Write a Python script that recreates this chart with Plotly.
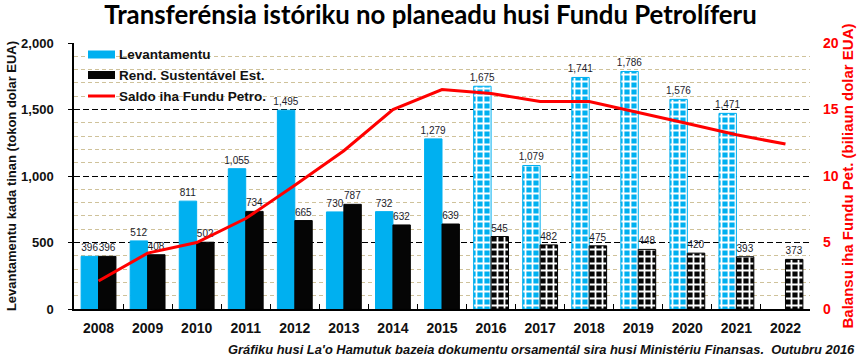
import plotly.graph_objects as go

# ---- data ----
years = [str(y) for y in range(2008, 2023)]
levantamentu = [396, 512, 811, 1055, 1495, 730, 732, 1279, 1675, 1079, 1741, 1786, 1576, 1471, None]
rend_sustentavel = [396, 408, 502, 734, 665, 787, 632, 639, 545, 482, 475, 448, 420, 393, 373]
saldo_fundu = [2.1, 4.2, 5.0, 6.8, 9.3, 11.9, 15.0, 16.5, 16.2, 15.6, 15.6, 14.8, 13.95, 13.1, 12.4]
is_projected = [False] * 8 + [True] * 7

BLUE = "#00B0F0"
BLACK = "#050505"
RED = "#FF0000"
LABEL_COLOR = "#1c1c2c"

# plot-area geometry (pixels) for placing legend items
W, H = 861, 358
L, R, T, B = 74, 810, 43, 309


def px(x):
    return (x - L) / (R - L)


def py(y):
    return (B - y) / (B - T)


pattern_shapes = ["+" if p else "" for p in is_projected]
label_font = dict(family="Liberation Sans Narrow, Liberation Sans, Arial, sans-serif", size=10,
                  color=LABEL_COLOR)

fig = go.Figure()

fig.add_trace(go.Bar(
    x=years, y=levantamentu, name="Levantamentu",
    marker=dict(color=BLUE, line=dict(color=BLUE, width=1),
                pattern=dict(shape=pattern_shapes, fgcolor="white", fgopacity=1,
                             solidity=0.45, size=7, fillmode="overlay")),
    texttemplate="%{y:,}", textposition="outside", cliponaxis=False, constraintext="none",
    textfont=label_font,
    showlegend=False,
))
fig.add_trace(go.Bar(
    x=years, y=rend_sustentavel, name="Rend. Sustentável Est.",
    marker=dict(color=BLACK, line=dict(color=BLACK, width=1),
                pattern=dict(shape=pattern_shapes, fgcolor="white", fgopacity=1,
                             solidity=0.45, size=7, fillmode="overlay")),
    texttemplate="%{y:,}", textposition="outside", cliponaxis=False, constraintext="none",
    textfont=label_font,
    showlegend=False,
))
fig.add_trace(go.Scatter(
    x=years, y=saldo_fundu, name="Saldo iha Fundu Petro.", yaxis="y2",
    mode="lines", line=dict(color=RED, width=3),
    showlegend=False,
))

# ---- manual legend ----
shapes = [
    dict(type="rect", xref="paper", yref="paper", x0=px(88), x1=px(115), y0=py(58.5), y1=py(50.5),
         fillcolor=BLUE, line=dict(width=0)),
    dict(type="rect", xref="paper", yref="paper", x0=px(88), x1=px(115), y0=py(79), y1=py(71),
         fillcolor=BLACK, line=dict(width=0)),
    dict(type="line", xref="paper", yref="paper", x0=px(88), x1=px(115), y0=py(96), y1=py(96),
         line=dict(color=RED, width=3)),
]
legend_font = dict(family="Liberation Sans, Arial, sans-serif", size=13.5, color="#111111")
annotations = [
    dict(text="<b>Levantamentu</b>", x=px(117), y=py(54.5), xref="paper", yref="paper",
         xanchor="left", yanchor="middle", showarrow=False, font=legend_font),
    dict(text="<b>Rend. Sustentável Est.</b>", x=px(117), y=py(75), xref="paper", yref="paper",
         xanchor="left", yanchor="middle", showarrow=False, font=legend_font),
    dict(text="<b>Saldo iha Fundu Petro.</b>", x=px(117), y=py(96), xref="paper", yref="paper",
         xanchor="left", yanchor="middle", showarrow=False, font=legend_font),
    dict(text="<b><i>Gráfiku husi La'o Hamutuk bazeia dokumentu orsamentál sira husi Ministériu Finansas.  Outubru 2016</i></b>",
         x=px(857), y=py(349), xref="paper", yref="paper", xanchor="right", yanchor="middle",
         showarrow=False, font=dict(family="Liberation Sans, Arial, sans-serif", size=12.9, color="#111111")),
]

fig.update_layout(
    width=W, height=H,
    margin=dict(l=L, r=W - R, t=T, b=H - B, pad=0),
    paper_bgcolor="white", plot_bgcolor="white",
    barmode="group", bargap=0.29, bargroupgap=0,
    title=dict(text="<b>Transferénsia istóriku no planeadu husi Fundu Petrolíferu</b>",
               x=0.5, xanchor="center", y=1 - 15 / H, yanchor="middle",
               font=dict(family="Lato, Liberation Sans, sans-serif", size=25.8, color="black")),
    shapes=shapes, annotations=annotations,
    xaxis=dict(
        type="category", range=[-0.5, 14.5],
        showline=True, linecolor="black", linewidth=2,
        ticks="inside", tickson="boundaries", ticklen=5, tickcolor="black", tickwidth=1,
        showgrid=False, ticklabelstandoff=5,
        tickfont=dict(family="Liberation Sans, Arial, sans-serif", size=14, color="#111111", weight="bold"),
    ),
    yaxis=dict(
        range=[0, 2000], dtick=500, tickformat=",",
        showline=True, linecolor="black", linewidth=1.5,
        ticks="outside", ticklen=4, tickcolor="black",
        ticklabelstandoff=12,
        showgrid=True, gridcolor="black", gridwidth=1, griddash="6px,3px",
        zeroline=False,
        minor=dict(dtick=100, showgrid=True, gridcolor="#CFC29A", gridwidth=1, griddash="4px,3px"),
        tickfont=dict(family="Liberation Sans, Arial, sans-serif", size=13, color="#111111", weight="bold"),
        title=dict(text="<b>Levantamentu kada tinan (tokon dolar EUA)</b>", standoff=2,
                   font=dict(family="Liberation Sans, Arial, sans-serif", size=13, color="#111111")),
        automargin=False,
    ),
    yaxis2=dict(
        overlaying="y", side="right", range=[0, 20], dtick=5,
        showgrid=False, zeroline=False, showline=False, ticks="",
        ticklabelstandoff=12,
        tickfont=dict(family="Liberation Sans, Arial, sans-serif", size=14, color=RED, weight="bold"),
        title=dict(text="<b>Balansu iha Fundu Pet. (biliaun dolar EUA)</b>", standoff=1,
                   font=dict(family="Liberation Sans, Arial, sans-serif", size=15, color=RED)),
        automargin=False,
    ),
)

fig.write_html("out.html", config={"displayModeBar": False},
               post_script="document.body.style.margin='0';")
